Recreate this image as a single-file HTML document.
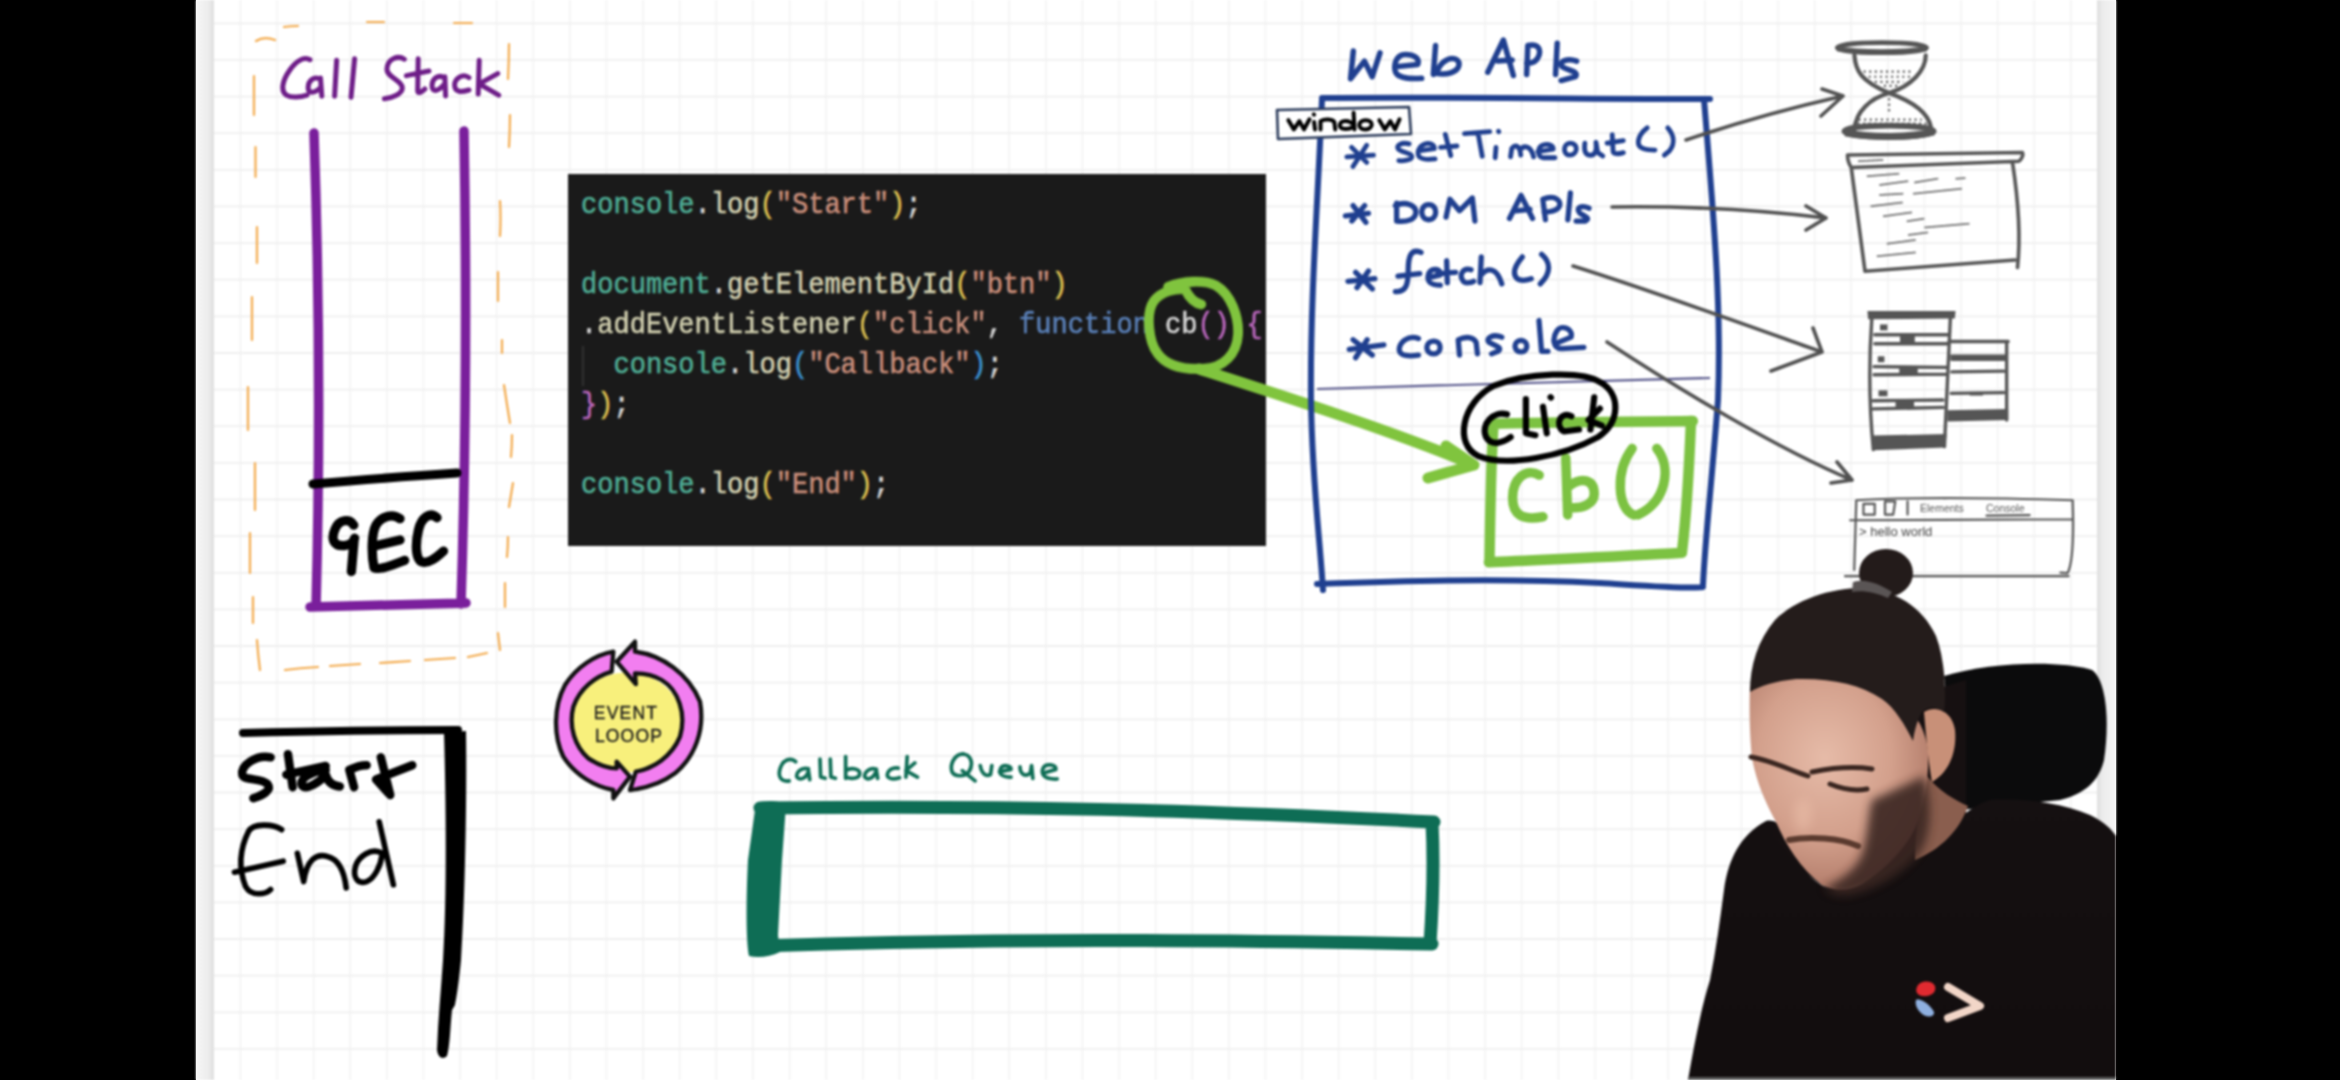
<!DOCTYPE html>
<html><head><meta charset="utf-8"><style>
html,body{margin:0;padding:0;width:2340px;height:1080px;overflow:hidden;background:#000;position:relative;}
svg text{font-family:"Liberation Sans", sans-serif;}
</style></head><body>
<svg width="2340" height="1080" viewBox="0 0 2340 1080" style="position:absolute;left:0;top:0"><rect x="0" y="0" width="2340" height="1080" fill="#000"/><rect x="196" y="0" width="1920" height="1080" fill="#fff"/></svg>
<svg width="2340" height="1080" viewBox="0 0 2340 1080" style="position:absolute;left:0;top:0;filter:blur(0.8px)"><defs>
<linearGradient id="gl" x1="0" x2="1" y1="0" y2="0"><stop offset="0" stop-color="#f6f6f6"/><stop offset="0.7" stop-color="#ececec"/><stop offset="1" stop-color="#dedede"/></linearGradient>
<linearGradient id="gr" x1="0" x2="1" y1="0" y2="0"><stop offset="0" stop-color="#dedede"/><stop offset="0.3" stop-color="#ececec"/><stop offset="1" stop-color="#f4f4f4"/></linearGradient>
</defs>
<rect x="196" y="-10" width="18" height="1100" fill="url(#gl)"/>
<rect x="2097" y="-10" width="19" height="1100" fill="url(#gr)"/>
<path d="M240.4,-10V1090M277.0,-10V1090M313.6,-10V1090M350.2,-10V1090M386.8,-10V1090M423.5,-10V1090M460.1,-10V1090M496.7,-10V1090M533.3,-10V1090M569.9,-10V1090M606.5,-10V1090M643.1,-10V1090M679.7,-10V1090M716.3,-10V1090M752.9,-10V1090M789.6,-10V1090M826.2,-10V1090M862.8,-10V1090M899.4,-10V1090M936.0,-10V1090M972.6,-10V1090M1009.2,-10V1090M1045.8,-10V1090M1082.4,-10V1090M1119.0,-10V1090M1155.6,-10V1090M1192.3,-10V1090M1228.9,-10V1090M1265.5,-10V1090M1302.1,-10V1090M1338.7,-10V1090M1375.3,-10V1090M1411.9,-10V1090M1448.5,-10V1090M1485.1,-10V1090M1521.7,-10V1090M1558.4,-10V1090M1595.0,-10V1090M1631.6,-10V1090M1668.2,-10V1090M1704.8,-10V1090M1741.4,-10V1090M1778.0,-10V1090M1814.6,-10V1090M1851.2,-10V1090M1887.8,-10V1090M1924.5,-10V1090M1961.1,-10V1090M1997.7,-10V1090M2034.3,-10V1090M2070.9,-10V1090" stroke="#f4f4f4" stroke-width="1.8" fill="none"/>
<path d="M214,23.3H2097M214,59.9H2097M214,96.6H2097M214,133.2H2097M214,169.8H2097M214,206.4H2097M214,243.1H2097M214,279.7H2097M214,316.3H2097M214,353.0H2097M214,389.6H2097M214,426.2H2097M214,462.9H2097M214,499.5H2097M214,536.1H2097M214,572.8H2097M214,609.4H2097M214,646.0H2097M214,682.6H2097M214,719.3H2097M214,755.9H2097M214,792.5H2097M214,829.2H2097M214,865.8H2097M214,902.4H2097M214,939.0H2097M214,975.7H2097M214,1012.3H2097M214,1048.9H2097" stroke="#efefef" stroke-width="1.8" fill="none"/>
<path d="M256,41Q264,36 275,40M284,27Q291,26 298,26M367,22Q375,22 384,22M454,23Q463,23 472,23M509,44Q509,60 508,79M510,115Q510,130 509,147M500,201Q501,218 500,236M498,272Q498,287 498,301M502,340Q502,346 502,353M504,385Q507,405 510,423M512,435Q512,446 511,457M513,483Q511,495 509,507M508,537Q508,547 507,557M505,583Q505,595 505,607M498,633Q499,642 500,650M487,653Q478,655 468,657M455,658Q440,659 425,660M410,661Q395,662 380,663M360,664Q345,665 330,666M318,667Q300,668 285,670M260,670Q258,655 257,640M253,623Q253,610 253,597M250,573Q250,553 250,533M255,510Q255,487 255,463M248,430Q248,408 248,387M252,340Q252,318 252,297M257,263Q257,245 257,227M255.5,177Q255.5,162 255.5,147M254,115Q254,95 254,76" fill="none" stroke="#f3aa4c" stroke-width="2.2" stroke-linecap="round"/>
<g transform="translate(270,50) scale(0.10256)"><path d="M390,95 C330,60 250,110 190,200 C120,300 100,400 160,440 C210,470 300,460 360,440 M490,285 C430,250 370,300 372,370 C374,425 430,425 488,370 M492,272 L505,450 M650,100 L630,450 M825,85 L790,460 M1310,90 C1250,50 1150,80 1140,180 C1130,260 1290,300 1290,370 C1290,430 1180,470 1115,475 M1445,85 L1440,400 C1445,430 1480,410 1510,380 M1330,250 L1550,205 M1705,275 C1640,230 1580,280 1580,350 C1580,420 1650,400 1703,330 M1705,262 L1712,448 M1940,270 C1880,220 1800,280 1800,340 C1800,420 1870,410 1940,390 M2040,100 L2030,430 M2220,230 L2040,330 L2230,440" fill="none" stroke="#6e1d88" stroke-width="48.8" stroke-linecap="round" stroke-linejoin="round" /></g>
<path d="M314,133 C318,250 321,420 316,607 M464,131 C467,300 466,450 461,604 M310,607 L466,603" fill="none" stroke="#7a1f9c" stroke-width="9.5" stroke-linecap="round"/>
<path d="M313,484 C360,480 410,476 457,473" fill="none" stroke="#000" stroke-width="9" stroke-linecap="round"/>
<g transform="translate(300,490) scale(0.09259)"><path d="M580,380 C540,300 420,320 380,420 C330,530 360,610 480,600 C540,595 580,560 590,520 M585,530 L555,880 M1080,310 C1000,250 880,280 820,380 C770,470 770,700 800,840 C850,870 1000,810 1130,760 M830,600 L1080,540 M1480,300 C1400,230 1310,300 1280,430 C1240,600 1250,770 1330,780 C1420,790 1500,700 1550,660" fill="none" stroke="#000" stroke-width="100.4" stroke-linecap="round" stroke-linejoin="round" /></g>
<rect x="568" y="174" width="698" height="372" fill="#1a1a1a"/>
<line x1="583" y1="346" x2="583" y2="386" stroke="#3a3a3a" stroke-width="1.5"/>
<text xml:space="preserve" transform="translate(581,213) scale(1,1.12)" style="font-family:'Liberation Mono',monospace;font-size:27.05px"><tspan fill="#4fae95" stroke="#4fae95" stroke-width="0.55">console</tspan><tspan fill="#d4d4d4" stroke="#d4d4d4" stroke-width="0.55">.</tspan><tspan fill="#d2d0b0" stroke="#d2d0b0" stroke-width="0.55">log</tspan><tspan fill="#dcbf50" stroke="#dcbf50" stroke-width="0.55">(</tspan><tspan fill="#c98e7a" stroke="#c98e7a" stroke-width="0.55">"Start"</tspan><tspan fill="#dcbf50" stroke="#dcbf50" stroke-width="0.55">)</tspan><tspan fill="#d4d4d4" stroke="#d4d4d4" stroke-width="0.55">;</tspan></text>
<text xml:space="preserve" transform="translate(581,293) scale(1,1.12)" style="font-family:'Liberation Mono',monospace;font-size:27.05px"><tspan fill="#4fae95" stroke="#4fae95" stroke-width="0.55">document</tspan><tspan fill="#d4d4d4" stroke="#d4d4d4" stroke-width="0.55">.</tspan><tspan fill="#d2d0b0" stroke="#d2d0b0" stroke-width="0.55">getElementById</tspan><tspan fill="#dcbf50" stroke="#dcbf50" stroke-width="0.55">(</tspan><tspan fill="#c98e7a" stroke="#c98e7a" stroke-width="0.55">"btn"</tspan><tspan fill="#dcbf50" stroke="#dcbf50" stroke-width="0.55">)</tspan></text>
<text xml:space="preserve" transform="translate(581,333) scale(1,1.12)" style="font-family:'Liberation Mono',monospace;font-size:27.05px"><tspan fill="#d4d4d4" stroke="#d4d4d4" stroke-width="0.55">.</tspan><tspan fill="#d2d0b0" stroke="#d2d0b0" stroke-width="0.55">addEventListener</tspan><tspan fill="#dcbf50" stroke="#dcbf50" stroke-width="0.55">(</tspan><tspan fill="#c98e7a" stroke="#c98e7a" stroke-width="0.55">"click"</tspan><tspan fill="#d4d4d4" stroke="#d4d4d4" stroke-width="0.55">, </tspan><tspan fill="#5a80b8" stroke="#5a80b8" stroke-width="0.55">function</tspan><tspan fill="#d4d4d4" stroke="#d4d4d4" stroke-width="0.55"> </tspan><tspan fill="#d4d4d4" stroke="#d4d4d4" stroke-width="0.55">cb</tspan><tspan fill="#b866bb" stroke="#b866bb" stroke-width="0.55">()</tspan><tspan fill="#d4d4d4" stroke="#d4d4d4" stroke-width="0.55"> </tspan><tspan fill="#b866bb" stroke="#b866bb" stroke-width="0.55">{</tspan></text>
<text xml:space="preserve" transform="translate(581,373) scale(1,1.12)" style="font-family:'Liberation Mono',monospace;font-size:27.05px"><tspan fill="#d4d4d4" stroke="#d4d4d4" stroke-width="0.55">  </tspan><tspan fill="#4fae95" stroke="#4fae95" stroke-width="0.55">console</tspan><tspan fill="#d4d4d4" stroke="#d4d4d4" stroke-width="0.55">.</tspan><tspan fill="#d2d0b0" stroke="#d2d0b0" stroke-width="0.55">log</tspan><tspan fill="#3a90d0" stroke="#3a90d0" stroke-width="0.55">(</tspan><tspan fill="#c98e7a" stroke="#c98e7a" stroke-width="0.55">"Callback"</tspan><tspan fill="#3a90d0" stroke="#3a90d0" stroke-width="0.55">)</tspan><tspan fill="#d4d4d4" stroke="#d4d4d4" stroke-width="0.55">;</tspan></text>
<text xml:space="preserve" transform="translate(581,413) scale(1,1.12)" style="font-family:'Liberation Mono',monospace;font-size:27.05px"><tspan fill="#b866bb" stroke="#b866bb" stroke-width="0.55">}</tspan><tspan fill="#dcbf50" stroke="#dcbf50" stroke-width="0.55">)</tspan><tspan fill="#d4d4d4" stroke="#d4d4d4" stroke-width="0.55">;</tspan></text>
<text xml:space="preserve" transform="translate(581,493) scale(1,1.12)" style="font-family:'Liberation Mono',monospace;font-size:27.05px"><tspan fill="#4fae95" stroke="#4fae95" stroke-width="0.55">console</tspan><tspan fill="#d4d4d4" stroke="#d4d4d4" stroke-width="0.55">.</tspan><tspan fill="#d2d0b0" stroke="#d2d0b0" stroke-width="0.55">log</tspan><tspan fill="#dcbf50" stroke="#dcbf50" stroke-width="0.55">(</tspan><tspan fill="#c98e7a" stroke="#c98e7a" stroke-width="0.55">"End"</tspan><tspan fill="#dcbf50" stroke="#dcbf50" stroke-width="0.55">)</tspan><tspan fill="#d4d4d4" stroke="#d4d4d4" stroke-width="0.55">;</tspan></text>
<g transform="translate(1132,270) scale(0.12039)"><path d="M575,285 C520,275 470,220 440,160 C360,150 240,180 180,260 C110,360 140,600 210,690 C280,790 420,830 600,820 C760,810 870,700 880,540 C890,390 820,200 700,130 C600,80 420,90 300,140" fill="none" stroke="#80c43e" stroke-width="81.4" stroke-linecap="round" stroke-linejoin="round" /></g>
<path d="M1199,369 C1280,395 1390,430 1474,465 M1474,465 L1428,478 M1474,465 L1446,446" fill="none" stroke="#80c43e" stroke-width="11" stroke-linecap="round" stroke-linejoin="round"/>
<g transform="translate(1340,30) scale(0.11111)"><path d="M120,190 L95,440 L220,280 L290,420 L360,205 M500,330 L700,310 C720,250 660,220 590,220 C500,220 480,320 500,380 C530,440 640,440 735,435 M860,140 L840,400 M870,390 C950,410 1060,380 1070,320 C1080,260 1010,240 960,270 C900,300 880,350 870,390 M1330,380 L1470,90 L1560,410 M1420,280 L1550,270 M1680,400 L1690,140 C1780,120 1810,170 1790,230 C1770,290 1720,300 1680,300 M1955,120 L1940,400 M2130,280 C2050,250 1960,280 2000,330 C2060,370 2150,370 2120,420 L1990,455" fill="none" stroke="#1f3f8f" stroke-width="49.5" stroke-linecap="round" stroke-linejoin="round" /></g>
<path d="M1322,98 C1450,97 1600,99 1710,99 M1322,99 C1318,200 1310,300 1311,400 C1312,480 1320,540 1323,590 M1704,99 C1712,200 1722,300 1718,400 C1712,480 1705,540 1703,585 M1317,584 C1400,581 1500,578 1600,583 C1650,586 1690,589 1703,587" fill="none" stroke="#1f3f8f" stroke-width="6" stroke-linecap="round"/>
<path d="M1317,389 C1450,385 1600,381 1710,378" fill="none" stroke="#55558a" stroke-width="2.2"/>
<path d="M1277,110 L1409,107 L1411,134 L1278,139 Z" fill="#fff" stroke="#2a3a5a" stroke-width="2.6" stroke-linejoin="round"/>
<g transform="translate(1270,100) scale(0.18376)"><path d="M100,110 L130,160 L160,115 L185,160 L215,105 M240,120 L245,160 M238,78 L240,80 M275,160 L275,115 C300,100 340,105 350,120 L355,160 M455,70 L460,160 M455,135 C430,105 385,110 380,135 C375,160 420,165 455,145 M520,110 C480,110 470,160 520,160 C560,160 570,110 520,110 M595,110 L625,160 L655,115 L680,160 L705,105" fill="none" stroke="#000" stroke-width="21.8" stroke-linecap="round" stroke-linejoin="round" /></g>
<g transform="translate(1340,120) scale(0.06838)"><path d="M100,540 L490,515 M170,400 L390,620 M190,680 L390,370 M1010,350 C900,320 820,370 850,420 C880,470 1060,480 1050,540 C1040,590 920,600 860,595 M1150,450 L1380,420 C1380,350 1300,330 1240,350 C1150,380 1120,480 1160,540 C1200,580 1300,580 1390,570 M1540,210 L1620,520 M1470,400 L1710,380 M1820,200 L2190,170 M2020,200 L2080,530" fill="none" stroke="#1f3f8f" stroke-width="70.2" stroke-linecap="round" stroke-linejoin="round" /></g>
<g transform="translate(1490,115) scale(0.08547)"><path d="M70,380 L60,500 M100,190 L102,195 M240,490 L255,390 C300,340 350,360 360,470 M360,400 C400,350 480,360 510,490 M560,430 L740,400 C740,340 650,330 600,360 C550,400 560,490 620,500 L760,500 M940,330 C850,330 850,470 930,470 C1030,470 1040,330 940,330 M1110,330 C1100,400 1100,460 1160,470 C1230,480 1250,420 1240,330 M1240,320 L1260,440 L1320,480 M1430,230 L1440,420 C1440,460 1500,460 1560,440 M1370,330 L1560,300 M1840,150 C1770,200 1720,280 1740,350 C1760,400 1850,410 1930,410 M2080,150 C2150,230 2170,330 2100,420 L2040,470" fill="none" stroke="#1f3f8f" stroke-width="56.2" stroke-linecap="round" stroke-linejoin="round" /></g>
<g transform="translate(1330,180) scale(0.12821)"><path d="M120,280 L300,260 M180,200 L280,330 M170,320 L270,200 M520,180 L520,320 M510,200 C590,160 670,200 670,250 C670,310 600,330 520,320 M770,192 C695,192 700,310 770,310 C840,310 845,192 770,192 M905,290 L935,150 L1010,240 L1110,140 L1130,320 M1400,300 L1490,120 L1580,300 M1450,240 L1560,230 M1680,310 L1660,150 C1760,110 1820,170 1780,220 C1750,250 1700,250 1670,250 M1875,100 L1855,310 M2020,220 C1960,190 1910,220 1950,260 C2000,290 2030,300 1990,320 L1920,320 M140,790 L350,770 M200,720 L330,850 M210,840 L300,710 M710,565 C630,530 610,600 610,700 C610,800 600,880 510,870 M530,750 L700,730 M780,760 L860,740 C870,690 790,680 770,730 C750,790 780,820 860,820 M910,630 L915,800 M840,730 L980,720 M1100,700 C1040,680 1000,740 1040,790 C1060,810 1100,800 1120,790 M1180,600 L1170,800 M1180,740 C1230,680 1300,680 1340,810 M1500,600 C1440,670 1420,730 1460,770 C1490,790 1540,780 1570,770 M1650,580 C1720,640 1730,720 1640,810" fill="none" stroke="#1f3f8f" stroke-width="41.3" stroke-linecap="round" stroke-linejoin="round" /></g>
<g transform="translate(1330,300) scale(0.12821)"><path d="M150,385 L420,350 M180,310 L330,430 M200,450 L290,310 M690,300 C610,270 540,330 540,390 C545,440 620,440 690,430 M810,320 C740,320 735,420 810,420 C875,420 875,320 810,320 M1010,430 L1000,310 C1060,280 1120,290 1140,330 L1150,420 M1340,290 C1270,260 1210,300 1240,330 C1290,360 1350,370 1310,400 L1260,420 M1490,315 C1430,315 1425,405 1490,405 C1550,405 1550,315 1490,315 M1630,160 L1650,400 L1700,400 M1760,340 L1880,290 C1900,220 1800,190 1770,240 C1730,300 1740,380 1810,380 L1980,370" fill="none" stroke="#1f3f8f" stroke-width="41.3" stroke-linecap="round" stroke-linejoin="round" /></g>
<g transform="translate(1450,365) scale(0.18975)"><path d="M230,310 C500,300 900,300 1280,295 M1270,295 C1262,500 1245,800 1222,990 M1222,990 C900,1010 500,1025 205,1040 M208,1030 C212,800 215,500 230,310" fill="none" stroke="#7cc242" stroke-width="55.3" stroke-linecap="round" stroke-linejoin="round" /></g>
<g transform="translate(1450,365) scale(0.18975)"><path d="M470,580 C400,540 330,600 330,700 C330,790 380,820 490,800 M610,490 L620,790 M625,750 C700,760 760,730 760,680 C760,600 690,590 625,640 M960,440 C870,560 880,760 970,790 M1090,440 C1170,540 1140,720 990,790" fill="none" stroke="#7cc242" stroke-width="50.1" stroke-linecap="round" stroke-linejoin="round" /></g>
<g transform="translate(1450,365) scale(0.18975)"><path d="M790,90 C700,30 400,40 230,110 C60,200 20,420 150,480 C300,540 600,480 780,380 C900,300 900,150 790,90 M300,260 C230,240 160,310 190,380 C220,430 280,410 320,380 M400,180 L400,360 L450,370 M490,220 L510,360 M530,170 L532,172 M640,270 C580,240 550,320 600,350 L680,340 M760,170 L740,340 M790,230 L730,290 L800,320" fill="none" stroke="#000" stroke-width="32.7" stroke-linecap="round" stroke-linejoin="round" /></g>
<path d="M1686,140 C1730,125 1790,108 1843,96 M1843,96 L1822,89 M1843,96 L1821,116 M1612,207 C1680,206 1760,210 1826,218 M1826,218 L1806,206 M1826,218 L1806,230 M1573,266 C1650,290 1760,330 1822,352 M1822,352 L1813,328 M1822,352 L1771,371 M1607,342 C1680,390 1780,450 1852,480 M1852,480 L1837,462 M1852,480 L1831,483" fill="none" stroke="#505050" stroke-width="3.6" stroke-linecap="round" stroke-linejoin="round"/>
<g transform="translate(1830,35) scale(0.10183)"><path d="M240,200 C250,350 300,450 580,570 M940,200 C940,350 800,500 580,570 M580,570 C400,620 250,750 240,930 M580,570 C800,650 960,750 990,900" fill="none" stroke="#555" stroke-width="41.2" stroke-linecap="round" stroke-linejoin="round" /></g>
<g transform="translate(1830,35) scale(0.10183)"><ellipse cx="510" cy="125" rx="440" ry="50" fill="none" stroke="#555" stroke-width="45"/><path d="M70,135 C300,175 700,175 950,135" fill="none" stroke="#555" stroke-width="50"/><ellipse cx="580" cy="945" rx="440" ry="55" fill="none" stroke="#555" stroke-width="55"/><path d="M150,960 C400,1010 800,1010 1020,950" fill="none" stroke="#555" stroke-width="70"/><path d="M330,360 H820 M380,410 H800 M440,460 H720 M530,500 H660 M580,620 V780 M280,830 H900 M270,870 H950" stroke="#555" stroke-width="22" stroke-dasharray="20 35" fill="none"/></g>
<g transform="translate(1840,145) scale(0.12500)"><path d="M60,80 L1460,60 C1470,80 1450,120 1430,130 L90,180 C70,150 60,110 60,80 M90,180 C120,400 160,700 200,1010 M200,1010 L1400,920 M1380,140 C1420,400 1450,700 1420,980" fill="none" stroke="#555" stroke-width="28.8" stroke-linecap="round" stroke-linejoin="round" /></g>
<g transform="translate(1840,145) scale(0.12500)"><path d="M220,250 L470,230 M320,320 L540,290 M600,300 L780,270 M930,270 L1000,265 M320,400 L500,390 M590,390 L970,350 M250,490 L500,460 M350,570 L570,540 M540,610 L670,590 M680,660 L1030,630 M550,720 L700,700 M380,790 L600,760 M300,890 L600,860 M150,130 L340,120" fill="none" stroke="#777" stroke-width="14.4" stroke-linecap="round" stroke-linejoin="round" stroke-dasharray="6 3"/></g>
<g transform="translate(1860,300) scale(0.14815)"><path d="M80,120 C60,400 60,700 90,1010 M610,120 L570,990 M990,280 L990,810 M600,280 L1000,280 M100,235 L600,235 M100,295 L600,295 M95,450 L590,455 M95,505 L585,500 M90,680 L560,675 M90,735 L560,725 M620,380 L980,380 M620,400 L980,400 M620,485 L970,480 M615,630 L970,625" fill="none" stroke="#555" stroke-width="22.9" stroke-linecap="round" stroke-linejoin="round" /></g>
<g transform="translate(1860,300) scale(0.14815)" fill="#555"><path d="M50,75 L645,75 L640,125 L55,130 Z"/><path d="M85,915 L585,905 L575,995 L90,1015 Z"/><path d="M590,745 L1000,735 L1000,810 L590,820 Z"/><rect x="270" y="235" width="100" height="60"/><rect x="265" y="450" width="125" height="50"/><rect x="240" y="680" width="125" height="45"/><rect x="760" y="375" width="80" height="25"/><rect x="740" y="620" width="90" height="25"/><rect x="135" y="165" width="50" height="40"/><rect x="120" y="380" width="45" height="40"/><rect x="125" y="610" width="60" height="40"/></g>
<g transform="translate(1845,490) scale(0.10256)"><path d="M110,100 C800,60 1600,80 2220,100 C2230,400 2230,700 2170,810 L2100,805 M110,100 L90,780 M0,840 L2180,840 M50,295 L2220,285 M180,135 L290,135 L290,240 L180,240 Z M390,110 L490,110 L470,240 L390,240 Z M610,110 L610,240 M1380,250 L1800,245" fill="none" stroke="#555" stroke-width="21.5" stroke-linecap="round" stroke-linejoin="round" /></g>
<text x="1920" y="512" style="font-size:10.5px;font-family:'Liberation Sans',sans-serif" fill="#555">Elements</text>
<text x="1986" y="512" style="font-size:10.5px;font-family:'Liberation Sans',sans-serif" fill="#555">Console</text>
<text x="1859" y="536" style="font-size:13px;font-family:'Liberation Sans',sans-serif" fill="#444">&gt; hello world</text>
<g transform="translate(545,630) scale(0.166667)"><ellipse cx="490" cy="555" rx="335" ry="300" fill="#f8f07c"/><path d="M430,190 L540,70 L540,130 C700,150 860,260 930,430 C960,600 900,760 780,860 C700,920 600,950 510,960 L545,850 C650,830 760,760 810,640 C850,500 800,360 700,300 C650,270 600,260 540,260 L545,325 Z" fill="#f27ef0" stroke="#111" stroke-width="26" stroke-linejoin="round"/><path d="M510,880 L410,1010 L410,960 C300,940 180,870 110,760 C50,640 50,460 120,330 C190,220 300,150 410,130 L400,250 C300,280 210,350 170,460 C140,580 180,700 260,770 C320,810 380,830 430,830 L430,790 Z" fill="#f27ef0" stroke="#111" stroke-width="26" stroke-linejoin="round"/></g>
<text x="626" y="719" text-anchor="middle" style="font-size:17.5px;font-family:'Liberation Sans',sans-serif;letter-spacing:1.2px" fill="#1a1a1a" stroke="#1a1a1a" stroke-width="0.35">EVENT</text>
<text x="629" y="742" text-anchor="middle" style="font-size:17.5px;font-family:'Liberation Sans',sans-serif;letter-spacing:1.2px" fill="#1a1a1a" stroke="#1a1a1a" stroke-width="0.35">LOOOP</text>
<path d="M243,733 C320,731 400,730 458,730" fill="none" stroke="#000" stroke-width="8" stroke-linecap="round"/>
<path d="M444,733 L466,731 C467,800 465,900 461,960 C458,990 456,1000 455,1005 L452,1010 C450,1030 450,1045 447,1056 C443,1060 438,1058 437,1050 C438,1020 441,990 443,960 C447,900 446,800 444,733 Z" fill="#000"/>
<g transform="translate(225,740) scale(0.15736)"><path d="M290,110 C200,90 100,160 110,220 C120,260 230,240 270,280 C300,320 240,350 180,370 M400,90 L430,300 M390,220 L640,165 M640,190 C540,200 470,250 490,290 C520,320 600,270 640,220 C650,260 680,290 730,295 M820,300 L790,190 C830,170 880,160 900,160 M990,110 L1050,350 M1190,160 L960,250 L1040,340" fill="none" stroke="#000" stroke-width="54.0" stroke-linecap="round" stroke-linejoin="round" /></g>
<g transform="translate(225,740) scale(0.15736)"><path d="M360,570 C300,530 180,530 150,580 C100,680 80,800 130,930 C170,1000 260,980 290,950 M60,840 L370,770 M460,720 L500,900 C520,760 580,720 650,740 C730,760 760,850 770,940 M980,520 L1070,920 M1000,720 C930,680 850,740 830,800 C810,870 840,920 900,900 C950,880 990,800 1000,720" fill="none" stroke="#000" stroke-width="35.6" stroke-linecap="round" stroke-linejoin="round" /></g>
<g transform="translate(770,745) scale(0.12821)"><path d="M200,130 C160,90 100,120 80,180 C60,240 80,290 150,280 M300,185 C240,170 200,220 210,250 C230,280 290,260 300,200 L310,270 M390,110 L395,250 L430,260 M470,110 L475,250 L510,260 M590,90 L590,260 M590,200 C640,170 700,190 700,220 C700,260 640,270 590,250 M830,190 C770,170 730,220 740,250 C760,280 810,260 830,200 L840,260 M1000,180 C950,170 900,210 920,250 C940,270 980,265 1010,255 M1070,90 L1060,250 M1130,140 L1060,200 L1150,250 M1510,70 C1440,70 1400,150 1420,210 C1440,250 1520,250 1550,210 C1590,150 1570,80 1510,70 M1500,200 L1600,280 M1640,160 C1650,220 1680,250 1720,230 L1730,160 M1790,210 L1880,190 C1880,160 1820,150 1800,180 C1780,220 1800,250 1880,250 M1950,170 C1950,230 1990,250 2030,220 L2040,160 L2050,260 M2130,220 L2230,190 C2230,150 2150,140 2130,180 C2110,230 2140,270 2240,265" fill="none" stroke="#0e6d55" stroke-width="28.9" stroke-linecap="round" stroke-linejoin="round" /></g>
<path d="M760,808 C1000,805 1200,810 1434,822 M1432,822 C1434,860 1433,900 1430,944 M1432,944 C1200,940 1000,938 760,946 M768,812 C768,850 765,900 762,948" fill="none" stroke="#0e6d55" stroke-width="13" stroke-linecap="round"/>
<path d="M756,803 C765,800 780,800 786,805 L782,860 L778,935 L780,952 C770,957 758,958 749,956 C746,940 746,900 748,860 Z" fill="#0e6d55"/>
<defs>
<radialGradient id="face" cx="0.42" cy="0.38" r="0.75"><stop offset="0" stop-color="#e6bba8"/><stop offset="0.5" stop-color="#d3a08c"/><stop offset="0.85" stop-color="#b07a68"/><stop offset="1" stop-color="#805444"/></radialGradient>
<linearGradient id="hood" x1="0" y1="0" x2="0" y2="1"><stop offset="0" stop-color="#151011"/><stop offset="1" stop-color="#120d0e"/></linearGradient>
<linearGradient id="beard" x1="0" y1="0" x2="1" y2="1"><stop offset="0" stop-color="#5a3a30" stop-opacity="0"/><stop offset="0.5" stop-color="#3a2620" stop-opacity="0.9"/><stop offset="1" stop-color="#1a1010"/></linearGradient>
</defs>
<path d="M1944,676 C1990,662 2060,660 2092,670 C2106,680 2110,720 2104,760 C2098,785 2080,795 2060,800 L1960,810 Z" fill="#0b0b0c"/>
<path d="M1688,1080 C1695,1040 1702,1005 1710,980 C1716,950 1720,920 1724,890 C1728,860 1740,835 1766,821 C1778,818 1784,830 1790,845 C1800,870 1820,890 1840,892 C1880,890 1920,860 1950,830 C1960,815 1975,805 1990,800 C2020,798 2060,802 2090,815 C2105,822 2112,830 2116,836 L2116,1080 Z" fill="url(#hood)"/>
<path d="M1770,830 C1790,860 1815,885 1840,895 C1880,895 1930,860 1962,812 L1962,700 L1944,690 C1935,740 1925,800 1900,840 C1870,870 1830,880 1800,860 Z" fill="#161011"/>
<path d="M1900,700 L1966,680 L1966,815 L1900,850 Z" fill="#161011"/>
<path d="M1926,775 C1940,792 1955,800 1968,806 C1960,830 1940,850 1915,860 C1915,830 1920,800 1926,775 Z" fill="#8a5e4e"/>
<path d="M1750,686 C1749,712 1750,740 1752,758 C1756,780 1764,800 1776,822 C1786,845 1800,868 1822,885 C1835,892 1850,891 1862,884 C1888,868 1908,845 1916,826 C1926,800 1929,775 1928,750 C1925,728 1915,712 1900,700 C1870,682 1830,676 1796,677 C1775,679 1760,682 1750,686 Z" fill="url(#face)"/>
<defs><filter id="bb" x="-30%" y="-30%" width="160%" height="160%"><feGaussianBlur stdDeviation="5"/></filter></defs>
<path d="M1872,800 C1890,792 1908,784 1924,776 C1932,800 1932,830 1922,850 C1905,872 1880,888 1850,895 C1838,897 1828,893 1824,888 C1845,878 1860,866 1864,848 C1868,832 1868,815 1872,800 Z" fill="#3a2822" opacity="0.9" filter="url(#bb)"/>
<path d="M1789,840 C1810,836 1840,838 1858,846" stroke="#5a3a2e" stroke-width="6" fill="none" stroke-linecap="round"/>
<path d="M1751,757 C1770,760 1790,770 1808,776 M1812,772 C1832,768 1852,766 1872,769 M1830,784 C1842,789 1856,791 1867,789" stroke="#3a2620" stroke-width="5" fill="none" stroke-linecap="round"/>
<ellipse cx="1803" cy="815" rx="9" ry="16" fill="#ecc0aa" opacity="0.5" filter="url(#bb)"/>
<path d="M1924,712 C1935,705 1952,710 1955,730 C1957,750 1950,772 1932,782 C1928,760 1926,735 1924,712 Z" fill="#c89078"/>
<path d="M1750,692 C1750,665 1758,640 1775,620 C1795,600 1830,588 1862,588 C1895,590 1922,606 1936,636 C1946,662 1946,700 1944,712 C1935,706 1928,706 1922,712 C1916,722 1914,735 1913,741 C1905,725 1895,708 1882,699 C1860,684 1830,678 1796,679 C1775,681 1760,686 1750,692 Z" fill="#241c1b"/>
<ellipse cx="1886" cy="573" rx="27" ry="24" fill="#231b1a"/>
<path d="M1853,582 C1865,578 1880,584 1892,592 L1888,598 C1875,592 1862,590 1852,592 Z" fill="#5a5555"/>
<path d="M1917,987 C1920,980 1932,980 1935,986 C1937,993 1930,997 1922,996 C1917,995 1915,991 1917,987 Z" fill="#e02a30"/>
<path d="M1916,1000 C1920,998 1930,1004 1934,1012 C1935,1018 1925,1018 1920,1012 C1916,1008 1915,1003 1916,1000 Z" fill="#8fb0e0"/>
<path d="M1948,987 L1980,1006 L1948,1018" fill="none" stroke="#f2d6c8" stroke-width="8" stroke-linecap="round" stroke-linejoin="round"/>
<rect x="1688" y="1077" width="428" height="5" fill="#5a5a5a"/></svg>
</body></html>
